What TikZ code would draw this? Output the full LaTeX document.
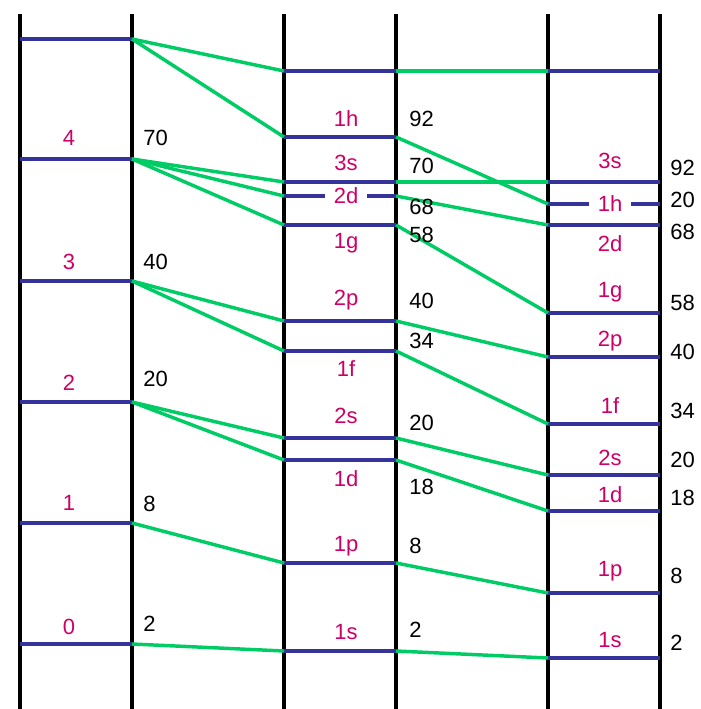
\documentclass[tikz,border=0pt]{standalone}
\usepackage{fontspec}
\setmainfont{Liberation Sans}
\definecolor{lvlblue}{HTML}{333399}
\definecolor{lblpink}{HTML}{CC0066}
\definecolor{lnkgreen}{HTML}{00CC66}
\begin{document}
\begin{tikzpicture}[x=0.75pt,y=-0.75pt,
  wall/.style={line width=3pt,black},
  level/.style={line width=2.4pt,lvlblue},
  link/.style={line width=2.6pt,lnkgreen},
  lbl/.style={text=lblpink,font=\fontsize{16.5}{18}\selectfont,inner sep=0pt},
  num/.style={text=black,font=\fontsize{16.5}{18}\selectfont,inner sep=0pt,anchor=west},
  gap/.style={lbl,minimum width=31pt,minimum height=12pt}]
\useasboundingbox (0,0) rectangle (700,709);
% column walls
\foreach \n/\x in {a1/20,a2/132,b1/284,b2/396,c1/548,c2/660}{
  \coordinate (\n-top) at (\x,14);
  \coordinate (\n-bot) at (\x,712);
  \draw[wall] (\n-top) -- (\n-bot);
}
% level end points
\foreach \n/\y in {At/39,A4/159,A3/281,A2/402,A1/523,A0/644}{
  \coordinate (\n-l) at (20,\y); \coordinate (\n-r) at (132,\y);}
\foreach \n/\y in {Bt/71,B1h/137,B3s/182,B2d/196,B1g/225,B2p/321,B1f/351,B2s/438,B1d/460,B1p/563,B1s/651}{
  \coordinate (\n-l) at (284,\y); \coordinate (\n-r) at (396,\y);}
\foreach \n/\y in {Ct/71,C3s/182,C1h/204,C2d/225,C1g/313,C2p/357,C1f/424,C2s/475,C1d/511,C1p/593,C1s/658}{
  \coordinate (\n-l) at (548,\y); \coordinate (\n-r) at (660,\y);}
% levels
\foreach \n in {At,A4,A3,A2,A1,A0,Bt,B1h,B3s,B1g,B2p,B1f,B2s,B1d,B1p,B1s,Ct,C3s,C2d,C1g,C2p,C1f,C2s,C1d,C1p,C1s}{
  \draw[level] (\n-l) -- (\n-r);}
% broken levels with inline labels
\node[gap] (B2d-lab) at (346,196) {2d};
\node[gap] (C1h-lab) at (610,204) {1h};
\draw[level] (B2d-l) -- (B2d-lab) -- (B2d-r);
\draw[level] (C1h-l) -- (C1h-lab) -- (C1h-r);
% connectors
\foreach \a/\b in {At/Bt,At/B1h,A4/B3s,A4/B2d,A4/B1g,A3/B2p,A3/B1f,A2/B2s,A2/B1d,A1/B1p,A0/B1s}{
  \draw[link] (\a-r) -- (\b-l);}
\foreach \a/\b in {Bt/Ct,B1h/C1h,B3s/C3s,B2d/C2d,B1g/C1g,B2p/C2p,B1f/C1f,B2s/C2s,B1d/C1d,B1p/C1p,B1s/C1s}{
  \draw[link] (\a-r) -- (\b-l);}
% left labels
\node[lbl] (tA4) at (69,138) {4};
\node[lbl] (tA3) at (69,262) {3};
\node[lbl] (tA2) at (69,383) {2};
\node[lbl] (tA1) at (69,503) {1};
\node[lbl] (tA0) at (69,627) {0};
\node[num] (nA4) at (143,138) {70};
\node[num] (nA3) at (143,262) {40};
\node[num] (nA2) at (143,379) {20};
\node[num] (nA1) at (143,504) {8};
\node[num] (nA0) at (143,624) {2};
% middle labels
\node[lbl] (tB1h) at (346,119) {1h};
\node[lbl] (tB3s) at (346,163) {3s};
\node[lbl] (tB1g) at (346,243) {1g};
\node[lbl] (tB2p) at (346,300) {2p};
\node[lbl] (tB1f) at (346,369) {1f};
\node[lbl] (tB2s) at (346,416) {2s};
\node[lbl] (tB1d) at (346,479) {1d};
\node[lbl] (tB1p) at (346,546) {1p};
\node[lbl] (tB1s) at (346,632) {1s};
\node[num] (nB1h) at (409,119) {92};
\node[num] (nB3s) at (409,166) {70};
\node[num] (nB2d) at (409,207) {68};
\node[num] (nB1g) at (409,235) {58};
\node[num] (nB2p) at (409,301) {40};
\node[num] (nB1f) at (409,341) {34};
\node[num] (nB2s) at (409,423) {20};
\node[num] (nB1d) at (409,487) {18};
\node[num] (nB1p) at (409,546) {8};
\node[num] (nB1s) at (409,630) {2};
% right labels
\node[lbl] (tC3s) at (610,161) {3s};
\node[lbl] (tC2d) at (610,244) {2d};
\node[lbl] (tC1g) at (610,292) {1g};
\node[lbl] (tC2p) at (610,341) {2p};
\node[lbl] (tC1f) at (610,406) {1f};
\node[lbl] (tC2s) at (610,458) {2s};
\node[lbl] (tC1d) at (610,495) {1d};
\node[lbl] (tC1p) at (610,571) {1p};
\node[lbl] (tC1s) at (610,640) {1s};
\node[num] (nC3s) at (670,168) {92};
\node[num] (nC1h) at (670,200) {20};
\node[num] (nC2d) at (670,232) {68};
\node[num] (nC1g) at (670,303) {58};
\node[num] (nC2p) at (670,352) {40};
\node[num] (nC1f) at (670,411) {34};
\node[num] (nC2s) at (670,460) {20};
\node[num] (nC1d) at (670,498) {18};
\node[num] (nC1p) at (670,576) {8};
\node[num] (nC1s) at (670,643) {2};
\end{tikzpicture}
\end{document}
